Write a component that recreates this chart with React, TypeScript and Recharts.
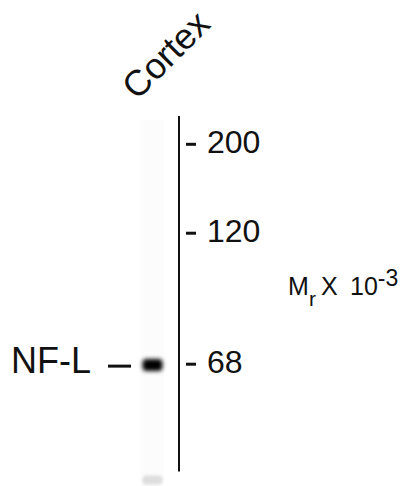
import React from "react";
import { ComposedChart, XAxis, YAxis, Scatter, ReferenceLine, ReferenceArea } from "recharts";

const lanes = ["Cortex"];
const laneCenters = [0.5];
const markerMasses = [200, 120, 68];
const markerRf = [7.65, 31.68, 67.08];
const bandLanes = [0, 0];
const bandRf = [67.3, 98.4];
const bandIntensity = [1, 0.12];
const bandLabels = ["NF-L"];
const bandLabelRf = [67.6];
const gelTopRf = 0;
const gelBottomRf = 96.1;
const axisTitle = { main: "M", sub: "r", mid: "X", num: "10", sup: "-3" };

const FONT = "'Liberation Sans', Arial, Helvetica, sans-serif";
const INK = "#111";

const bandData = bandRf.map((rf, i) => ({
  pos: laneCenters[bandLanes[i]],
  rf,
  intensity: bandIntensity[i],
}));

const BandShape = (props: any) => {
  const { cx, cy, payload } = props;
  const strong = payload.intensity > 0.5;
  const w = 20;
  const h = strong ? 12 : 9;
  const id = `band-blur-${Math.round(cy)}`;
  return (
    <g>
      <defs>
        <filter id={id} x="-60%" y="-150%" width="220%" height="400%">
          <feGaussianBlur stdDeviation={strong ? 2.2 : 1.5} />
        </filter>
      </defs>
      <rect
        x={cx - w / 2}
        y={cy - h / 2}
        width={w}
        height={h}
        rx={4}
        fill="#000"
        fillOpacity={payload.intensity}
        filter={`url(#${id})`}
      />
    </g>
  );
};

const LaneTick = (props: any) => {
  const { x, y, payload } = props;
  const i = laneCenters.indexOf(payload.value);
  const px = x - 15.5;
  const py = y - 15;
  return (
    <text
      x={px}
      y={py}
      transform={`rotate(-45, ${px}, ${py})`}
      fontSize={36}
      fontFamily={FONT}
      fill={INK}
      textAnchor="start"
    >
      {lanes[i]}
    </text>
  );
};

const MarkerTick = (props: any) => {
  const { x, y, payload } = props;
  const i = markerRf.indexOf(payload.value);
  return (
    <g>
      <rect x={x + 7} y={y - 1.5} width={10} height={3} fill={INK} />
      <text x={x + 28} y={y + 9} fontSize={32} fontFamily={FONT} fill={INK}>
        {markerMasses[i]}
      </text>
    </g>
  );
};

const BandLabelTick = (props: any) => {
  const { x, y, payload } = props;
  const i = bandLabelRf.indexOf(payload.value);
  return (
    <g>
      <text x={x - 35} y={y + 7} fontSize={36} fontFamily={FONT} fill={INK} textAnchor="end">
        {bandLabels[i]}
      </text>
      <rect x={x - 18} y={y - 1.5} width={23} height={3} fill={INK} />
    </g>
  );
};

const AxisTitle = (props: any) => {
  const vb = props.viewBox || { x: 0, y: 0, width: 0, height: 0 };
  const x = vb.x;
  const y = vb.y + vb.height / 2 - 6;
  return (
    <text y={y} fontSize={25} fontFamily={FONT} fill={INK}>
      <tspan x={x + 109}>{axisTitle.main}</tspan>
      <tspan x={x + 130} dy={11} fontSize={21}>{axisTitle.sub}</tspan>
      <tspan x={x + 142} dy={-11}>{axisTitle.mid}</tspan>
      <tspan x={x + 171}>{axisTitle.num}</tspan>
      <tspan dy={-9} fontSize={23}>{axisTitle.sup}</tspan>
    </text>
  );
};

export default function App() {
  return (
    <div style={{ position: "absolute", left: 0, top: 0, width: 406, height: 486, background: "#fff" }}>
      <ComposedChart
        width={406}
        height={486}
        data={bandData}
        margin={{ top: 16, right: 0, bottom: 0, left: 0 }}
      >
        <XAxis
          xAxisId="x"
          dataKey="pos"
          type="number"
          domain={[0, 1]}
          allowDataOverflow
          orientation="top"
          height={100}
          ticks={laneCenters}
          interval={0}
          axisLine={false}
          tickLine={false}
          tickSize={0}
          tickMargin={0}
          tick={<LaneTick />}
        />
        <YAxis
          yAxisId="label"
          type="number"
          domain={[0, 100]}
          allowDataOverflow
          reversed
          orientation="left"
          width={126}
          ticks={bandLabelRf}
          interval={0}
          axisLine={false}
          tickLine={false}
          tickSize={0}
          tickMargin={0}
          tick={<BandLabelTick />}
        />
        <YAxis
          yAxisId="rf"
          dataKey="rf"
          type="number"
          domain={[0, 100]}
          allowDataOverflow
          reversed
          orientation="right"
          width={227}
          ticks={markerRf}
          interval={0}
          axisLine={false}
          tickLine={false}
          tickSize={0}
          tickMargin={0}
          tick={<MarkerTick />}
          label={<AxisTitle />}
        />
        <ReferenceArea
          xAxisId="x"
          yAxisId="rf"
          x1={0.28}
          x2={0.72}
          y1={1}
          y2={100}
          fill="#000"
          fillOpacity={0.012}
          stroke="none"
          ifOverflow="visible"
        />
        <ReferenceLine
          xAxisId="x"
          yAxisId="rf"
          segment={[
            { x: 1, y: gelTopRf },
            { x: 1, y: gelBottomRf },
          ]}
          stroke={INK}
          strokeWidth={2}
          ifOverflow="visible"
        />
        <Scatter
          xAxisId="x"
          yAxisId="rf"
          dataKey="rf"
          data={bandData}
          shape={<BandShape />}
          isAnimationActive={false}
        />
      </ComposedChart>
    </div>
  );
}
